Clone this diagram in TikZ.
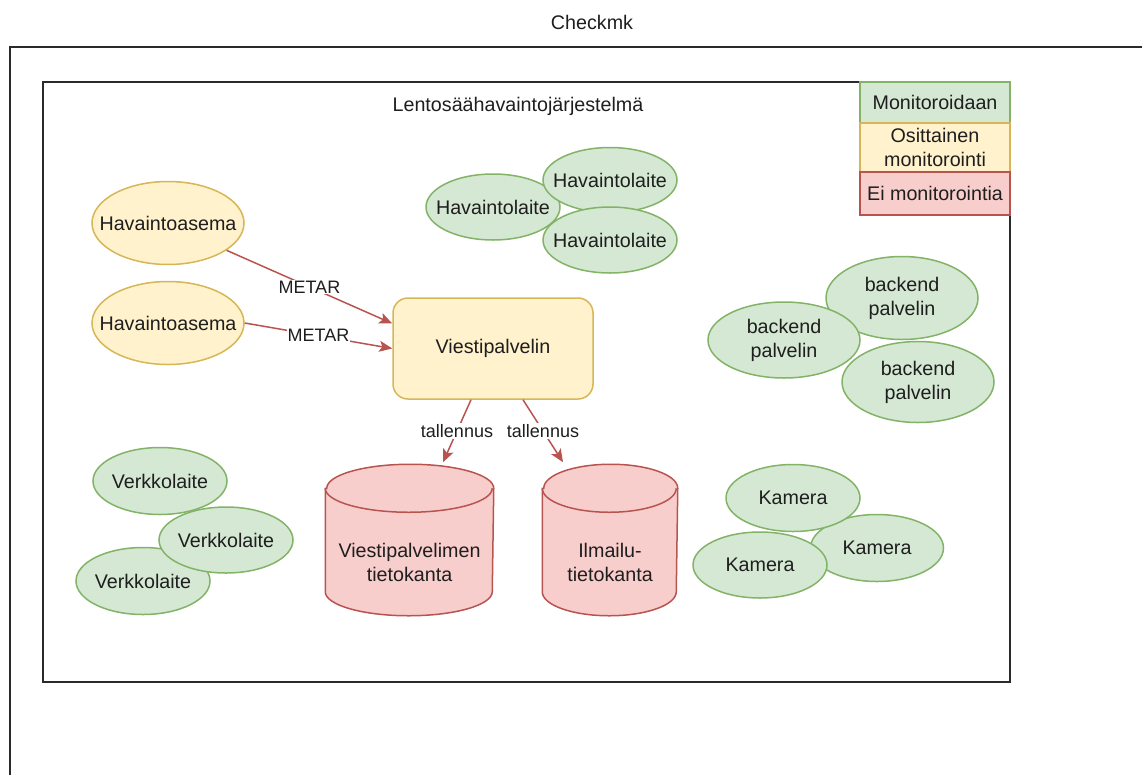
\documentclass[tikz,border=0pt]{standalone}
\usepackage{fontspec}
\setmainfont{Liberation Sans}
\usetikzlibrary{shapes.geometric,arrows.meta,calc}

\definecolor{gfill}{HTML}{D5E8D4}
\definecolor{gline}{HTML}{82B366}
\definecolor{yfill}{HTML}{FFF2CC}
\definecolor{yline}{HTML}{D6B656}
\definecolor{rfill}{HTML}{F8CECC}
\definecolor{rline}{HTML}{B85450}
\definecolor{ink}{HTML}{1E1E1E}
\definecolor{frame}{HTML}{2A2A2A}

% draws a database cylinder around the (empty) node #1, cap radii #2 x #3
\newcommand\dbcyl[3]{%
  \draw[dbline] ($(#1.north west)+(0,#3)$) -- ($(#1.south west)+(0,-#3)$)
    arc[start angle=180, end angle=360, x radius=#2pt, y radius=#3pt]
    -- ($(#1.north east)+(0,#3)$)
    arc[start angle=0, end angle=180, x radius=#2pt, y radius=#3pt] -- cycle;
  \draw[dbline, fill=none] ($(#1.north west)+(0,#3)$)
    arc[start angle=180, end angle=360, x radius=#2pt, y radius=#3pt];
}

\begin{document}
\begin{tikzpicture}[x=1pt, y=-1pt,
  every node/.style={font=\fontsize{19.7}{24}\selectfont, text=ink},
  every label/.style={align=center},
  base/.style={line width=1.5pt, inner sep=0pt, align=center},
  okell/.style={base, ellipse, draw=gline, fill=gfill},
  partell/.style={base, ellipse, draw=yline, fill=yfill},
  legbox/.style={base, rectangle, minimum width=150pt},
  dbline/.style={line width=1.5pt, draw=rline, fill=rfill},
  conn/.style={draw=rline, line width=1.5pt,
    -{Stealth[length=13pt, width=11pt, inset=3pt]}},
  elabel/.style={font=\fontsize{18}{22}\selectfont, fill=white, inner sep=1pt},
  boxline/.style={draw=frame, line width=1.6pt}
]
\useasboundingbox (0,0) rectangle (1142,774);
\clip (0,0) rectangle (1142,774);

% outer container
\node (checkmk) at (592,22) {Checkmk};
\draw[boxline] (10,47) rectangle (1160,800);

% inner system container
\draw[boxline] (43,82) rectangle (1010,682);
\node (system) at (518,106) {Lentosäähavaintojärjestelmä};

% legend
\node[legbox, draw=gline, fill=gfill, minimum height=41pt] (leg1) at (935,102.5) {Monitoroidaan};
\node[legbox, draw=yline, fill=yfill, minimum height=49pt] (leg2) at (935,147.5) {Osittainen\\monitorointi};
\node[legbox, draw=rline, fill=rfill, minimum height=43pt] (leg3) at (935,193.5) {Ei monitorointia};

% observation stations
\node[partell, minimum width=152pt, minimum height=83pt, label=center:{Havaintoasema}] (ha1) at (168,223) {};
\node[partell, minimum width=152pt, minimum height=83pt, label=center:{Havaintoasema}] (ha2) at (168,323) {};

% message server
\node[base, rectangle, rounded corners=15pt, draw=yline, fill=yfill,
      minimum width=200pt, minimum height=101pt] (vp) at (493,348.5) {Viestipalvelin};

% observation devices
\node[okell, minimum width=134pt, minimum height=66pt, label=center:{Havaintolaite}] (hl1) at (493,207) {};
\node[okell, minimum width=134pt, minimum height=65pt, label=center:{Havaintolaite}] (hl2) at (610,180) {};
\node[okell, minimum width=134pt, minimum height=66pt, label=center:{Havaintolaite}] (hl3) at (610,240) {};

% backend servers
\node[okell, minimum width=152pt, minimum height=83pt, label=center:{backend\\palvelin}] (bp2) at (902,298) {};
\node[okell, minimum width=152pt, minimum height=76pt, label=center:{backend\\palvelin}] (bp1) at (784,340) {};
\node[okell, minimum width=152pt, minimum height=81pt, label=center:{backend\\palvelin}] (bp3) at (918,382) {};

% network devices
\node[okell, minimum width=134pt, minimum height=67pt, label=center:{Verkkolaite}] (vl1) at (160,481) {};
\node[okell, minimum width=134pt, minimum height=67pt, label=center:{Verkkolaite}] (vl3) at (143,581) {};
\node[okell, minimum width=134pt, minimum height=66pt, label=center:{Verkkolaite}] (vl2) at (226,540) {};

% cameras
\node[okell, minimum width=133pt, minimum height=67pt, label=center:{Kamera}] (km2) at (877,548) {};
\node[okell, minimum width=134pt, minimum height=67pt, label=center:{Kamera}] (km1) at (793,498) {};
\node[okell, minimum width=134pt, minimum height=66pt, label=center:{Kamera}] (km3) at (760,565) {};

% databases
\node[base, minimum width=167pt, minimum height=150pt] (db1) at (409.5,540) {};
\dbcyl{db1}{83.5}{24}
\node[align=center] (db1t) at ($(db1.center)+(0,22)$) {Viestipalvelimen\\tietokanta};
\node[base, minimum width=134pt, minimum height=150pt] (db2) at (610,540) {};
\dbcyl{db2}{67}{24}
\node[align=center] (db2t) at ($(db2.center)+(0,22)$) {Ilmailu-\\tietokanta};

% data flows
\draw[conn] (ha1.-25) -- node[elabel] {METAR} ($(vp.west)+(0,-25)$);
\draw[conn] (ha2.east) -- node[elabel] {METAR} (vp.west);
\draw[conn] ($(vp.south)+(-22,0)$) -- node[elabel] {tallennus} ($(db1.north)+(33.5,-2)$);
\draw[conn] ($(vp.south)+(30,0)$) -- node[elabel] {tallennus} ($(db2.north)+(-47,-2)$);
\end{tikzpicture}
\end{document}
